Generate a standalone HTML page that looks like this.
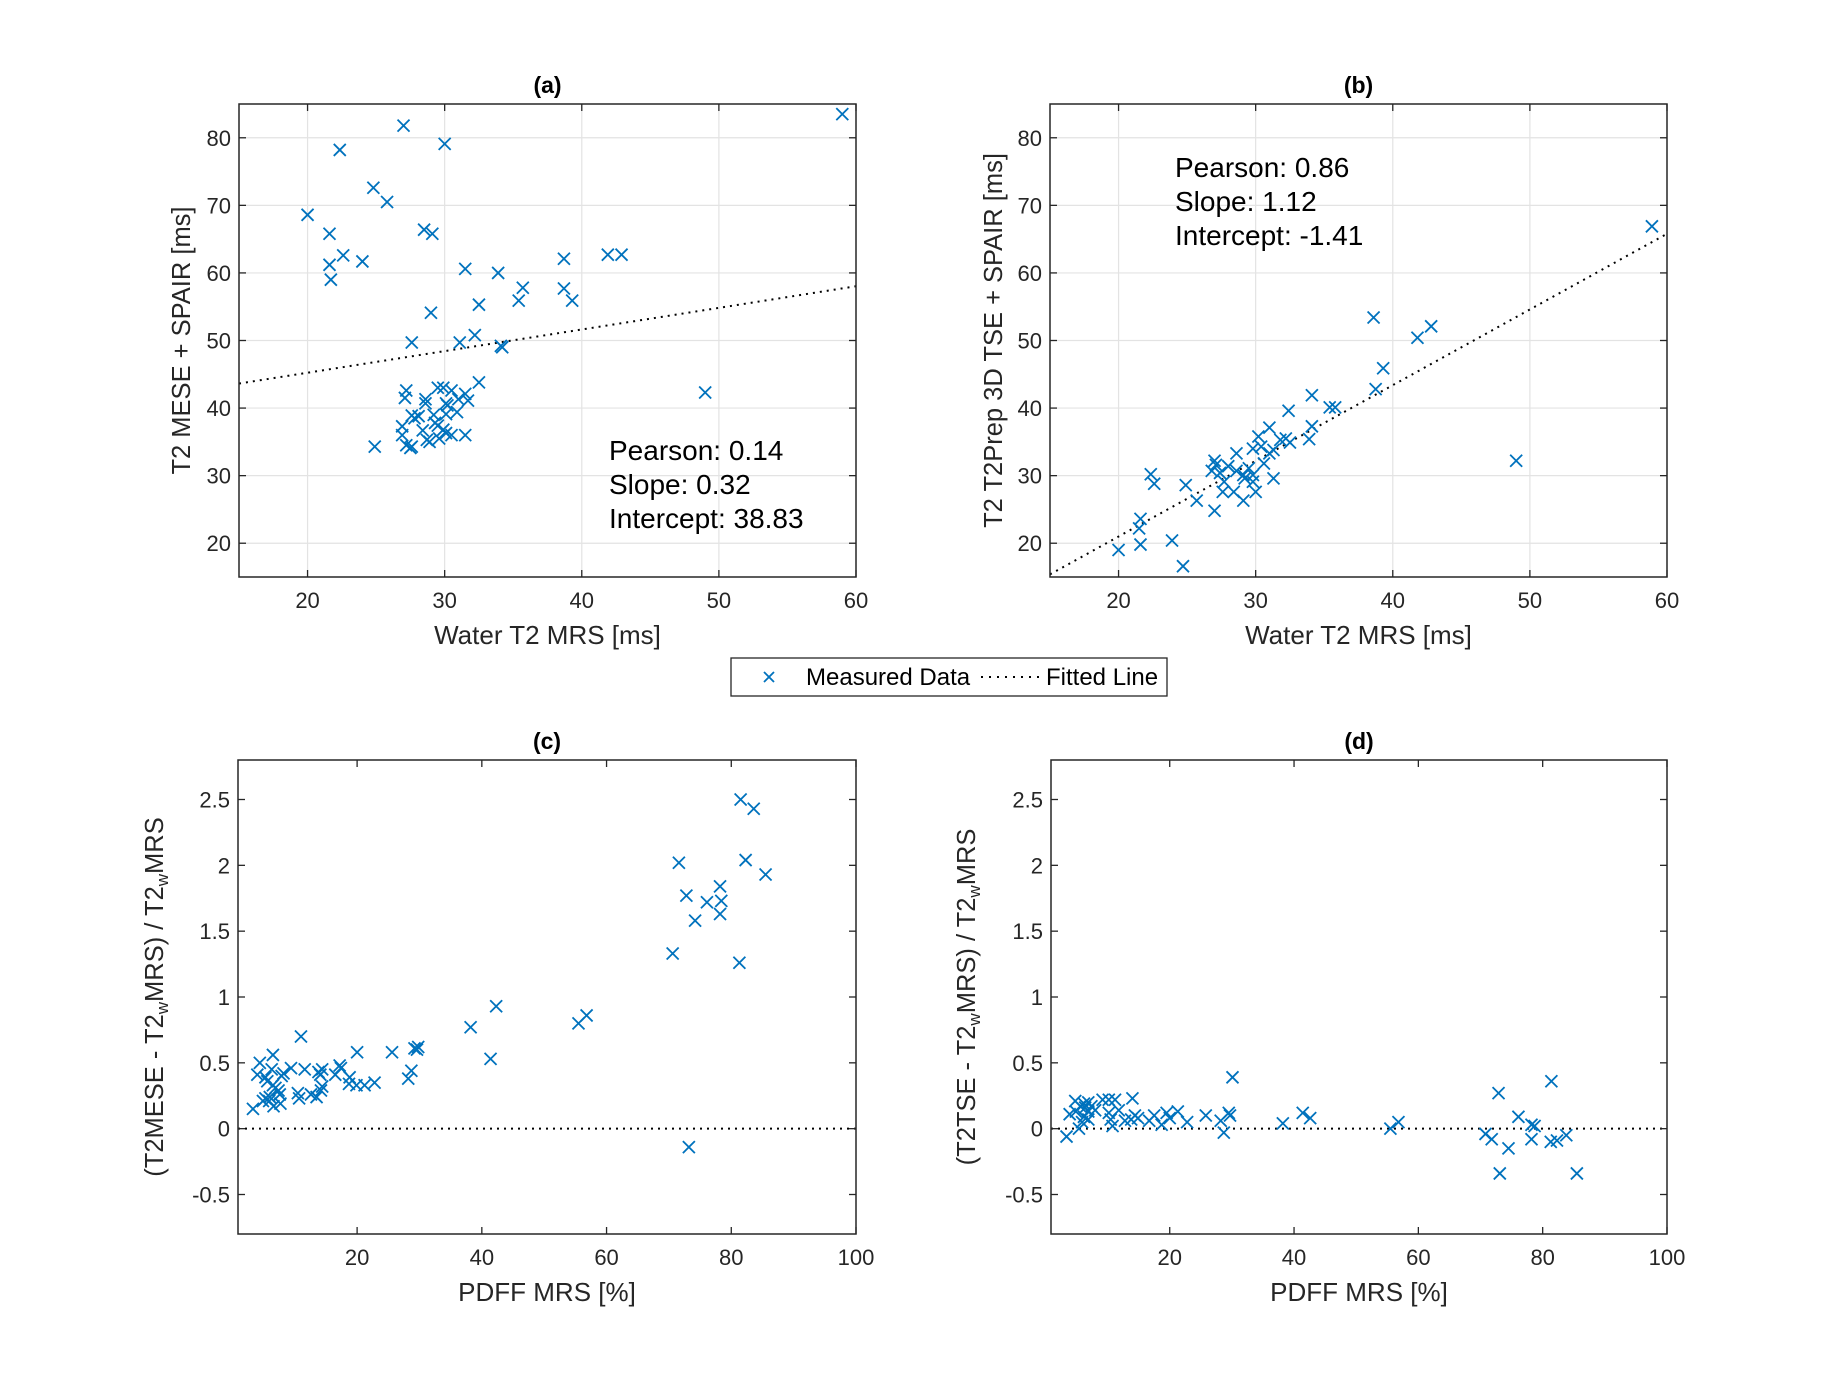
<!DOCTYPE html>
<html><head><meta charset="utf-8"><style>
html,body{margin:0;padding:0;background:#fff;}
svg{display:block;font-family:"Liberation Sans",Arial,sans-serif;}
</style></head><body>
<svg id="fig" width="1842" height="1386" viewBox="0 0 1842 1386" xmlns="http://www.w3.org/2000/svg"></svg>
<script>
// ---- data ----
const aX=[59.0,27.0,30.0,22.35,24.8,25.8,20.0,21.6,28.5,29.1,22.6,21.6,24.0,21.7,31.5,33.9,38.7,41.9,42.9,35.7,38.7,35.4,39.3,32.5,29.0,32.2,31.1,27.6,34.1,34.2,49.0,32.5,24.9,27.2,27.1,28.6,28.6,29.5,29.9,30.5,31.5,31.0,30.1,30.2,31.7,30.9,30.1,29.2,27.6,28.1,27.8,29.3,29.5,26.9,28.4,29.9,30.1,30.5,31.5,26.9,28.7,28.9,29.6,27.2,27.5,27.6];
const aY=[83.5,81.8,79.1,78.2,72.6,70.5,68.6,65.8,66.4,65.8,62.6,61.2,61.7,59.0,60.6,60.0,62.1,62.7,62.7,57.8,57.7,55.9,55.9,55.3,54.1,50.8,49.7,49.7,49.2,49.0,42.3,43.8,34.3,42.6,41.5,41.3,40.7,43.0,43.0,42.6,42.1,41.3,40.7,40.4,41.1,39.4,39.1,39.0,38.9,38.8,38.5,37.8,37.4,37.3,36.7,36.8,36.3,36.0,36.0,36.0,35.3,35.0,35.5,34.5,34.1,34.3];
const bX=[58.9,38.6,41.8,42.8,39.3,38.75,34.1,32.4,35.4,35.8,34.1,33.9,49.0,31.0,30.2,31.8,32.2,32.5,31.3,29.8,30.4,31.0,30.6,28.6,27.0,27.1,26.8,27.4,28.0,28.6,29.1,29.5,29.8,29.2,29.8,31.3,27.7,27.6,28.4,30.0,29.1,27.0,25.7,24.9,22.35,22.6,21.6,21.5,21.6,20.0,23.9,24.7];
const bY=[66.9,53.4,50.4,52.1,45.9,42.8,41.9,39.6,40.1,40.1,37.3,35.4,32.2,37.1,35.8,35.3,35.5,34.9,33.8,34.0,34.3,33.3,31.8,33.3,32.2,31.6,30.7,30.4,31.4,30.7,30.1,31.1,30.1,29.6,29.1,29.6,29.1,27.6,27.6,27.6,26.3,24.8,26.3,28.6,30.2,28.8,23.6,22.2,19.8,19.0,20.4,16.6];
const cX=[81.5,83.6,71.6,82.3,85.5,78.2,72.8,76.1,78.4,78.2,74.2,70.6,81.3,42.3,38.2,55.5,56.8,41.4,73.2,29.8,29.2,29.6,25.6,20.0,11.0,28.7,28.2,22.8,21.2,19.9,18.7,18.8,17.2,17.4,16.5,14.4,13.8,14.1,14.4,14.2,13.5,12.6,10.5,10.7,11.6,9.4,8.2,7.9,6.5,4.4,4.0,6.3,5.3,5.6,6.5,6.9,7.4,7.6,5.3,5.9,6.6,7.7,3.3,4.9,6.0];
const cY=[2.50,2.43,2.02,2.04,1.93,1.84,1.77,1.72,1.73,1.63,1.58,1.33,1.26,0.93,0.77,0.80,0.86,0.53,-0.14,0.62,0.61,0.60,0.58,0.58,0.70,0.44,0.38,0.35,0.33,0.33,0.34,0.39,0.48,0.46,0.41,0.45,0.43,0.41,0.32,0.29,0.24,0.26,0.27,0.23,0.45,0.46,0.42,0.40,0.56,0.50,0.41,0.45,0.39,0.36,0.33,0.31,0.29,0.26,0.23,0.21,0.17,0.19,0.15,0.21,0.24];
const dX=[30.1,81.4,72.9,14.0,11.2,10.2,9.2,4.8,6.2,6.9,5.6,6.4,7.4,8.0,3.9,4.9,6.9,6.2,6.9,5.9,5.4,3.4,11.8,10.2,10.5,10.8,12.8,13.8,14.4,14.9,16.7,17.5,18.7,19.5,20.0,21.3,22.8,25.8,28.2,28.7,29.5,29.7,38.2,41.4,42.6,55.5,56.8,76.1,78.2,78.7,70.8,71.8,78.2,74.5,81.3,82.3,83.8,73.1,85.5];
const dY=[0.39,0.36,0.27,0.23,0.22,0.22,0.22,0.21,0.19,0.20,0.17,0.16,0.17,0.14,0.11,0.13,0.13,0.09,0.07,0.05,0.00,-0.06,0.14,0.12,0.07,0.02,0.06,0.07,0.10,0.08,0.06,0.10,0.03,0.12,0.08,0.13,0.05,0.10,0.06,-0.03,0.12,0.10,0.04,0.12,0.08,0.00,0.05,0.09,0.03,0.02,-0.04,-0.08,-0.08,-0.15,-0.10,-0.09,-0.05,-0.34,-0.34];
const ticksT2=[20,30,40,50,60];
const ticksT2y=[20,30,40,50,60,70,80];
const ticksPdff=[20,40,60,80,100];
const ticksRel=[-0.5,0,0.5,1,1.5,2,2.5];
const relLabels=['-0.5','0','0.5','1','1.5','2','2.5'];
const fitA=[0.32,38.83], fitB=[1.12,-1.41], fitCD=[0,0];

const NS='http://www.w3.org/2000/svg';
const svg=document.getElementById('fig');
function mk(tag,attrs,parent){const e=document.createElementNS(NS,tag);for(const k in attrs)e.setAttribute(k,attrs[k]);(parent||svg).appendChild(e);return e;}
function txt(s,x,y,size,anchor,parent,extra){const t=mk('text',Object.assign({x:x,y:y,'font-size':size,'text-anchor':anchor||'middle',fill:'#262626'},extra||{}),parent);t.textContent=s;return t;}

function panel(cfg){
  const g=mk('g',{});
  
  
  const L=cfg.L,R=cfg.R,T=cfg.T,B=cfg.B;
  const sx=v=>L+(v-cfg.xmin)/(cfg.xmax-cfg.xmin)*(R-L);
  const sy=v=>B-(v-cfg.ymin)/(cfg.ymax-cfg.ymin)*(B-T);
  if(cfg.grid){
    cfg.xt.forEach(v=>{if(v>cfg.xmin&&v<cfg.xmax){const l=mk('line',{x1:sx(v),x2:sx(v),y1:T,y2:B,stroke:'#e3e3e3','stroke-width':1.2},g);}});
    cfg.yt.forEach(v=>{const l=mk('line',{x1:L,x2:R,y1:sy(v),y2:sy(v),stroke:'#e3e3e3','stroke-width':1.2},g);});
  }
  const fl=mk('line',{x1:L,x2:R,y1:sy(cfg.fit[0]*cfg.xmin+cfg.fit[1]),y2:sy(cfg.fit[0]*cfg.xmax+cfg.fit[1]),stroke:'#000','stroke-width':2,'stroke-dasharray':'2 5'},g);
  
  
  const s=6;
  cfg.px.forEach((xv,i)=>{const cx=sx(xv),cy=sy(cfg.py[i]);
    const p=mk('path',{d:`M${cx-s},${cy-s}L${cx+s},${cy+s}M${cx-s},${cy+s}L${cx+s},${cy-s}`,stroke:'#0072BD','stroke-width':1.8,fill:'none'},g);
    
    
  });
  const bx=mk('rect',{x:L,y:T,width:R-L,height:B-T,fill:'none',stroke:'#262626','stroke-width':1.5},g);
  
  
  const tl=7;
  cfg.xt.forEach((v,i)=>{const x=sx(v);
    mk('line',{x1:x,x2:x,y1:B,y2:B-tl,stroke:'#262626','stroke-width':1.3},g);
    mk('line',{x1:x,x2:x,y1:T,y2:T+tl,stroke:'#262626','stroke-width':1.3},g);
    const t=txt(String(v),x,B+31,22,'middle',g);
    
    
  });
  cfg.yt.forEach((v,i)=>{const y=sy(v);
    mk('line',{x1:L,x2:L+tl,y1:y,y2:y,stroke:'#262626','stroke-width':1.3},g);
    mk('line',{x1:R,x2:R-tl,y1:y,y2:y,stroke:'#262626','stroke-width':1.3},g);
    const t=txt(cfg.ylab?cfg.ylab[i]:String(v),L-8,y+8,22,'end',g);
    
    
  });
  const ti=txt(cfg.title,(L+R)/2,T-11,23,'middle',g,{'font-weight':'bold',fill:'#000'});
  
  
  const xl=txt(cfg.xlabel,(L+R)/2,B+67,26,'middle',g);
  
  
  const yx=cfg.ylx,yy=(T+B)/2;
  const yl=mk('text',{x:0,y:0,'font-size':25.5,'text-anchor':'middle',fill:'#262626',transform:`translate(${yx},${yy}) rotate(-90)`},g);
  yl.innerHTML=cfg.ylabel;
  
  
  if(cfg.ann){cfg.ann.forEach((s,i)=>{const t=txt(s,cfg.annX,cfg.annY+i*34,28,'start',g,{fill:'#000'});
    
    });}
}
const sub='<tspan baseline-shift="-30%" font-size="17">w</tspan>';
panel({name:'panel-a',L:239,R:856,T:104,B:577,xmin:15,xmax:60,ymin:15,ymax:85,xt:ticksT2,yt:ticksT2y,grid:true,px:aX,py:aY,fit:fitA,title:'(a)',xlabel:'Water T2 MRS [ms]',ylabel:'T2 MESE + SPAIR [ms]',ylx:190,ann:['Pearson: 0.14','Slope: 0.32','Intercept: 38.83'],annX:609,annY:460});
panel({name:'panel-b',L:1050,R:1667,T:104,B:577,xmin:15,xmax:60,ymin:15,ymax:85,xt:ticksT2,yt:ticksT2y,grid:true,px:bX,py:bY,fit:fitB,title:'(b)',xlabel:'Water T2 MRS [ms]',ylabel:'T2 T2Prep 3D TSE + SPAIR [ms]',ylx:1002,ann:['Pearson: 0.86','Slope: 1.12','Intercept: -1.41'],annX:1175,annY:177});
panel({name:'panel-c',L:238,R:856,T:760,B:1234,xmin:0.9,xmax:100,ymin:-0.8,ymax:2.8,xt:ticksPdff,yt:ticksRel,ylab:relLabels,grid:false,px:cX,py:cY,fit:fitCD,title:'(c)',xlabel:'PDFF MRS [%]',ylabel:'(T2MESE - T2'+sub+'MRS) / T2'+sub+'MRS',ylx:163});
panel({name:'panel-d',L:1051,R:1667,T:760,B:1234,xmin:0.9,xmax:100,ymin:-0.8,ymax:2.8,xt:ticksPdff,yt:ticksRel,ylab:relLabels,grid:false,px:dX,py:dY,fit:fitCD,title:'(d)',xlabel:'PDFF MRS [%]',ylabel:'(T2TSE - T2'+sub+'MRS) / T2'+sub+'MRS',ylx:975});

const lg=mk('g',{});


mk('rect',{x:731,y:658,width:436,height:38,fill:'#fff',stroke:'#262626','stroke-width':1.3},lg);
const lm=mk('path',{d:'M764,672L774,682M764,682L774,672',stroke:'#0072BD','stroke-width':1.8,fill:'none'},lg);


const lt1=txt('Measured Data',806,685,24,'start',lg,{fill:'#000'});


const ll=mk('line',{x1:981,x2:1040,y1:677,y2:677,stroke:'#000','stroke-width':2,'stroke-dasharray':'2 6'},lg);


const lt2=txt('Fitted Line',1046,685,24,'start',lg,{fill:'#000'});


</script>
</body></html>
